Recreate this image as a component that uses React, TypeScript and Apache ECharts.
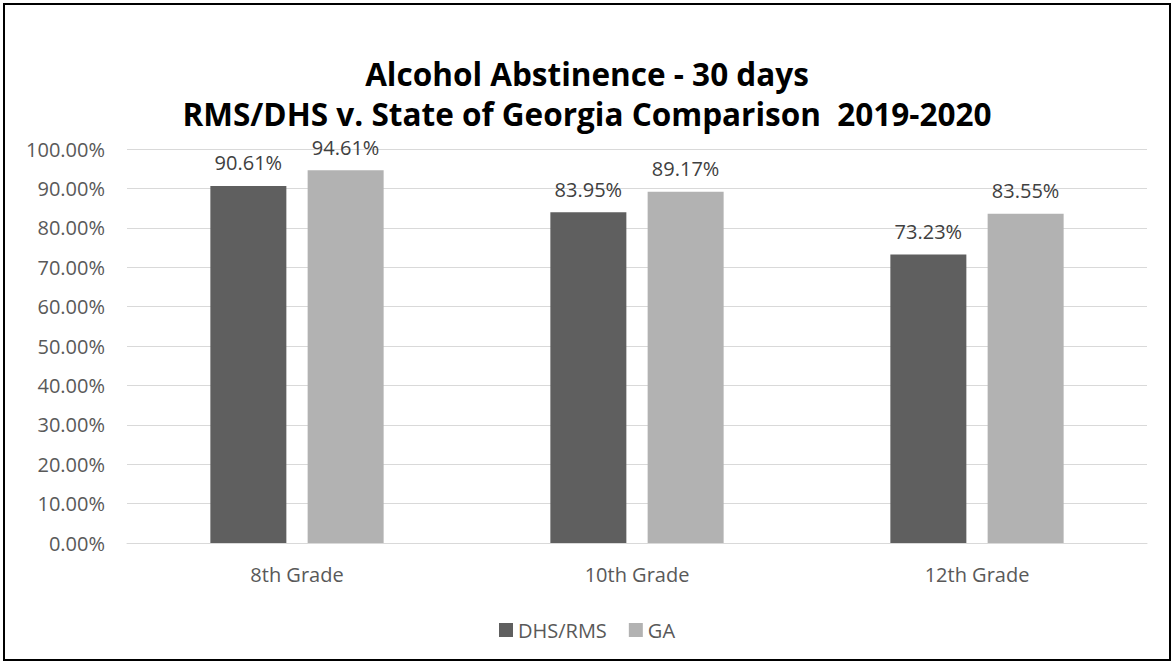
import React, { useEffect, useRef } from "react";
import * as echarts from "echarts";

const categories = ["8th Grade", "10th Grade", "12th Grade"];
const seriesNames = ["DHS/RMS", "GA"];
const dhsRms = [90.61, 83.95, 73.23];
const ga = [94.61, 89.17, 83.55];
const titleLines = ["Alcohol Abstinence - 30 days", "RMS/DHS v. State of Georgia Comparison  2019-2020"];

const FONT = "'Open Sans', Lato, sans-serif";

export default function App() {
  const ref = useRef<HTMLDivElement>(null);

  useEffect(() => {
    if (!ref.current) return;
    const chart = echarts.init(ref.current, null, { renderer: "svg" });
    const label = {
      show: true,
      position: "top",
      distance: 13,
      color: "#404040",
      fontSize: 20,
      fontFamily: FONT,
      formatter: (p: any) => `${Number(p.value).toFixed(2)}%`,
    };
    const titleStyle = {
      fontFamily: FONT,
      fontWeight: "bold",
      fontSize: 31.5,
      lineHeight: 26,
      color: "#000000",
    };
    chart.setOption({
      animation: false,
      backgroundColor: "#ffffff",
      title: titleLines.map((t, i) => ({
        text: t,
        left: "center",
        top: 60 + i * 40,
        padding: 0,
        textStyle: titleStyle,
      })),
      grid: { left: 127, right: 27, top: 149, bottom: 121 },
      xAxis: {
        type: "category",
        data: categories,
        axisTick: { show: false },
        axisLine: { show: true, lineStyle: { color: "#d9d9d9", width: 1 } },
        axisLabel: { color: "#595959", fontSize: 20, fontFamily: FONT, margin: 21 },
      },
      yAxis: {
        type: "value",
        min: 0,
        max: 100,
        interval: 10,
        axisLine: { show: false },
        axisTick: { show: false },
        splitLine: { lineStyle: { color: "#d9d9d9", width: 1 } },
        axisLabel: {
          color: "#595959",
          fontSize: 20,
          fontFamily: FONT,
          margin: 22,
          formatter: (v: number) => `${v.toFixed(2)}%`,
        },
      },
      legend: {
        data: seriesNames,
        bottom: 19,
        left: "center",
        itemWidth: 14,
        itemHeight: 14,
        itemGap: 22,
        icon: "rect",
        textStyle: { color: "#595959", fontSize: 20, fontFamily: FONT },
      },
      series: [
        {
          name: seriesNames[0],
          type: "bar",
          data: dhsRms,
          barWidth: 76,
          barGap: "28%",
          itemStyle: { color: "#5f5f5f" },
          label,
        },
        {
          name: seriesNames[1],
          type: "bar",
          data: ga,
          barWidth: 76,
          itemStyle: { color: "#b2b2b2" },
          label,
        },
      ],
      graphic: [
        {
          type: "rect",
          shape: { x: 4, y: 4, width: 1166, height: 656 },
          style: { fill: "none", stroke: "#000000", lineWidth: 2 },
          silent: true,
        },
      ],
    });
    return () => chart.dispose();
  }, []);

  return (
    <div
      ref={ref}
      style={{ position: "absolute", left: 0, top: 0, width: 1174, height: 664 }}
    />
  );
}
